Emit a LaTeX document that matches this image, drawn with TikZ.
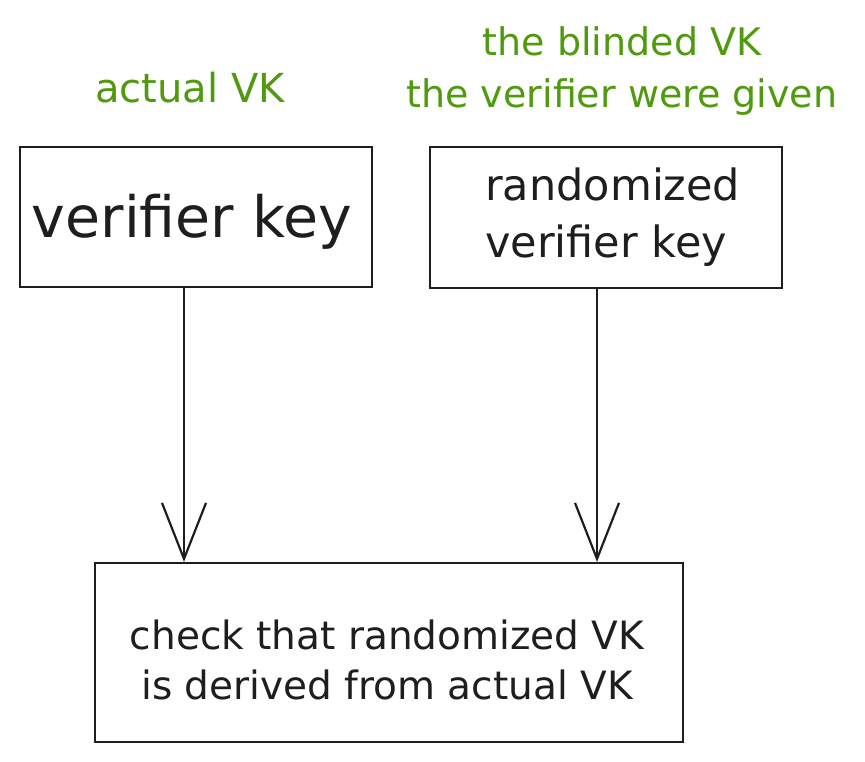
\documentclass[tikz,border=0pt]{standalone}
\usepackage{fontspec}
\setmainfont{DejaVu Sans}
\usetikzlibrary{arrows.meta,calc}
\definecolor{ink}{HTML}{1E1E1E}
\definecolor{leaf}{HTML}{4F9A0E}
\tikzset{
  box/.style={draw=ink, line width=2.2pt, inner sep=0pt},
  note/.style={text=leaf, font=\fontsize{38}{52}\selectfont, align=center, inner sep=0pt},
  arr/.style={draw=ink, line width=2.2pt, -{Straight Barb[length=56pt,width=44pt,line width=2.2pt]}}
}
\begin{document}
\begin{tikzpicture}[x=1pt,y=-1pt]
\useasboundingbox (0,0) rectangle (865,762);
\node[box, minimum width=352pt, minimum height=140pt] (v1) at (196,217) {};
\node[box, minimum width=352pt, minimum height=141pt] (v2) at (606,217.5) {};
\node[box, minimum width=588pt, minimum height=179pt] (chk) at (389,652.5) {};
\node[inner sep=0pt, text=ink, font=\fontsize{57}{60}\selectfont] (t1) at (192,222) {verifier key};
\node[inner sep=0pt, text=ink, font=\fontsize{43}{57}\selectfont, align=left, anchor=west] (t2) at (485,217) {randomized\\verifier key};
\node[inner sep=0pt, text=ink, font=\fontsize{39}{50}\selectfont, align=center] (t3) at (387,660) {check that randomized VK\\is derived from actual VK};
\node[note, font=\fontsize{40}{52}\selectfont] (g1) at (190,88) {actual VK};
\node[note] (g2) at (622,71) {the blinded VK\\the verifier were given};
\draw[arr] ([xshift=-12pt]v1.south) -- ([xshift=-12pt]v1.south |- chk.north);
\draw[arr] ([xshift=-9pt]v2.south) -- ([xshift=-9pt]v2.south |- chk.north);
\end{tikzpicture}
\end{document}
